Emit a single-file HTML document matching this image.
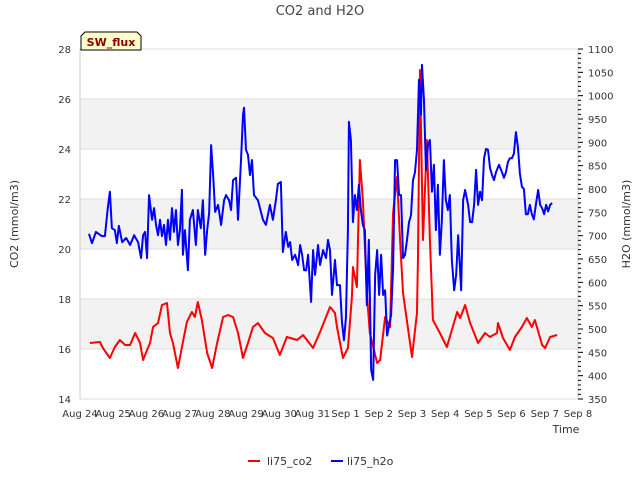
<!DOCTYPE html>
<html><head><meta charset="utf-8"><style>
body{margin:0;background:#fff;width:640px;height:480px;overflow:hidden;font-family:"DejaVu Sans","Liberation Sans",sans-serif}
</style></head><body>
<svg id="chart" width="640" height="480" xmlns="http://www.w3.org/2000/svg" font-family="DejaVu Sans, Liberation Sans, sans-serif">
<text x="320" y="15" text-anchor="middle" font-size="13" fill="#444">CO2 and H2O</text>
<g id="bands"></g>
<g id="grid"></g>
<g id="axes"></g>
<g id="series"></g>
<text transform="translate(18,224) rotate(-90)" text-anchor="middle" font-size="11" fill="#333">CO2 (mmol/m3)</text>
<text transform="translate(630,224) rotate(-90)" text-anchor="middle" font-size="11" fill="#333">H2O (mmol/m3)</text>
<text x="566" y="433" text-anchor="middle" font-size="11" fill="#333">Time</text>
<g>
<path d="M81,50 L81,36 L85,32 L137,32 L141,36 L141,50 Z" fill="#ffffcc" stroke="#000" stroke-width="1"/>
<text x="111" y="46" text-anchor="middle" font-size="11" font-weight="bold" fill="#8b0000">SW_flux</text>
</g>
<g>
<g><line x1="248" y1="461" x2="260" y2="461" stroke="#f00" stroke-width="2"/><text x="267" y="465" font-size="11" fill="#333">li75_co2</text></g>
<g><line x1="331" y1="461" x2="343" y2="461" stroke="#00f" stroke-width="2"/><text x="347" y="465" font-size="11" fill="#333">li75_h2o</text></g>
</g>
</svg>
<script>
const xTickLabels=["Aug 24","Aug 25","Aug 26","Aug 27","Aug 28","Aug 29","Aug 30","Aug 31","Sep 1","Sep 2","Sep 3","Sep 4","Sep 5","Sep 6","Sep 7","Sep 8"];
const co2Ticks=[14,16,18,20,22,24,26,28];
const h2oTicks=[350,400,450,500,550,600,650,700,750,800,850,900,950,1000,1050,1100];
const co2Time=[0.30,0.60,0.69,0.90,1.05,1.20,1.36,1.51,1.66,1.81,1.90,2.02,2.11,2.20,2.35,2.47,2.62,2.71,2.80,2.95,3.07,3.22,3.37,3.46,3.55,3.67,3.83,3.98,4.13,4.31,4.46,4.61,4.76,4.91,5.06,5.21,5.36,5.57,5.81,6.02,6.23,6.54,6.72,7.02,7.23,7.53,7.68,7.74,7.92,8.07,8.19,8.22,8.34,8.43,8.52,8.64,8.73,8.95,9.04,9.19,9.34,9.43,9.55,9.64,9.73,10.00,10.15,10.18,10.24,10.33,10.45,10.54,10.63,10.84,11.05,11.36,11.45,11.60,11.75,11.99,12.20,12.35,12.56,12.59,12.74,12.95,13.10,13.31,13.46,13.61,13.70,13.92,14.01,14.16,14.37];
const co2Val=[16.24,16.28,16.04,15.64,16.08,16.36,16.16,16.16,16.64,16.24,15.56,15.96,16.24,16.88,17.04,17.76,17.84,16.64,16.24,15.24,16.08,17.08,17.48,17.28,17.88,17.16,15.84,15.24,16.24,17.28,17.36,17.28,16.64,15.64,16.24,16.88,17.04,16.64,16.44,15.76,16.48,16.36,16.56,16.04,16.68,17.68,17.44,16.88,15.64,16.04,18.08,19.28,18.48,23.56,21.96,18.24,16.64,15.44,15.56,17.28,16.88,21.44,22.88,20.36,18.24,15.68,17.44,19.68,27.16,20.36,24.36,20.36,17.16,16.64,16.08,17.48,17.24,17.76,17.04,16.24,16.64,16.48,16.64,17.04,16.44,15.96,16.48,16.88,17.24,16.88,17.16,16.16,16.04,16.48,16.56];
const h2oTime=[0.27,0.36,0.48,0.66,0.75,0.84,0.90,0.96,1.05,1.11,1.17,1.27,1.39,1.51,1.63,1.75,1.84,1.90,1.96,2.02,2.08,2.17,2.23,2.29,2.35,2.41,2.47,2.53,2.59,2.65,2.71,2.77,2.83,2.89,2.95,3.01,3.07,3.10,3.16,3.25,3.31,3.40,3.49,3.55,3.64,3.70,3.77,3.83,3.89,3.95,4.01,4.07,4.16,4.25,4.34,4.40,4.49,4.55,4.61,4.70,4.76,4.85,4.91,4.94,5.00,5.06,5.12,5.18,5.24,5.36,5.51,5.60,5.72,5.81,5.90,5.96,6.05,6.11,6.20,6.27,6.33,6.39,6.48,6.57,6.63,6.69,6.75,6.81,6.87,6.96,7.02,7.08,7.17,7.23,7.32,7.41,7.47,7.53,7.59,7.68,7.74,7.83,7.89,7.95,8.01,8.07,8.10,8.16,8.22,8.28,8.34,8.40,8.46,8.52,8.58,8.64,8.70,8.77,8.83,8.89,8.95,9.01,9.07,9.13,9.19,9.25,9.31,9.37,9.43,9.49,9.55,9.61,9.67,9.73,9.79,9.85,9.91,9.97,10.03,10.09,10.15,10.21,10.27,10.30,10.36,10.42,10.48,10.54,10.60,10.66,10.72,10.78,10.84,10.90,10.96,11.02,11.08,11.14,11.20,11.27,11.33,11.39,11.48,11.54,11.60,11.69,11.75,11.81,11.87,11.93,11.99,12.05,12.11,12.17,12.23,12.29,12.35,12.41,12.47,12.53,12.62,12.71,12.77,12.83,12.89,12.95,13.01,13.07,13.13,13.19,13.25,13.31,13.37,13.43,13.49,13.55,13.61,13.67,13.73,13.80,13.86,13.92,13.98,14.04,14.10,14.16,14.22,14.28];
const h2oVal=[704,684,708,699,699,761,794,716,712,684,721,686,695,680,701,686,652,701,708,652,787,734,759,723,701,734,699,723,680,734,691,759,708,755,680,712,798,659,712,626,734,755,680,755,716,776,659,712,749,894,830,751,766,723,776,787,776,755,819,824,734,862,959,974,884,873,830,862,787,776,734,723,766,734,776,811,815,665,708,676,686,648,659,637,680,659,626,626,659,558,669,616,680,637,669,652,691,669,573,648,594,594,515,476,524,712,944,905,729,787,755,809,755,723,712,551,691,412,391,616,669,573,659,573,583,486,508,530,630,862,862,787,787,652,659,691,729,744,819,836,884,1034,959,1066,991,841,894,905,794,852,712,809,659,734,862,776,755,787,648,583,616,701,583,776,798,766,729,729,766,841,766,794,776,866,886,884,845,830,819,836,852,836,824,836,858,866,866,876,922,890,833,805,800,746,746,766,746,735,766,798,766,759,746,766,752,766,770];
const NS='http://www.w3.org/2000/svg';
const L=80,R=578,T=49,B=399;
const xs=d=>L+d*(R-L)/15;
const yc=v=>B-(v-14)*(B-T)/14;
const yh=v=>B-(v-350)*(B-T)/750;
function mk(tag,attrs,parent){const e=document.createElementNS(NS,tag);for(const k in attrs)e.setAttribute(k,attrs[k]);parent.appendChild(e);return e;}
const bands=document.getElementById('bands'),grid=document.getElementById('grid'),axes=document.getElementById('axes'),series=document.getElementById('series');
[16,20,24].forEach(v=>{const r=mk('rect',{x:L,y:yc(v+2),width:R-L,height:yc(v)-yc(v+2),fill:'#f2f2f2'},bands);

});
co2Ticks.forEach(v=>{const l=mk('line',{x1:L,x2:R,y1:yc(v),y2:yc(v),stroke:'#dcdcdc','stroke-width':1},grid);


const t=mk('text',{x:L-9,y:yc(v)+4,'text-anchor':'end','font-size':10,fill:'#333'},axes);t.textContent=v;

});
mk('line',{x1:L,x2:L,y1:T,y2:B,stroke:'#ccc'},axes);
mk('line',{x1:R,x2:R,y1:T,y2:B,stroke:'#ccc'},axes);
for(let v=350;v<=1100;v+=10){mk('line',{x1:R,x2:R+(v%50===0?5:3),y1:yh(v),y2:yh(v),stroke:'#000','stroke-width':1},axes);}
h2oTicks.forEach(v=>{const t=mk('text',{x:R+10,y:yh(v)+4,'font-size':10,fill:'#333'},axes);t.textContent=v;

});
xTickLabels.forEach((s,i)=>{const t=mk('text',{x:xs(i),y:417,'text-anchor':'middle','font-size':10,fill:'#333'},axes);t.textContent=s;

});
const pc=mk('polyline',{points:co2Time.map((d,i)=>xs(d)+','+yc(co2Val[i])).join(' '),fill:'none',stroke:'#ff0000','stroke-width':2,'stroke-linejoin':'round'},series);


const ph=mk('polyline',{points:h2oTime.map((d,i)=>xs(d)+','+yh(h2oVal[i])).join(' '),fill:'none',stroke:'#0000ff','stroke-width':2,'stroke-linejoin':'round'},series);


</script>
</body></html>
